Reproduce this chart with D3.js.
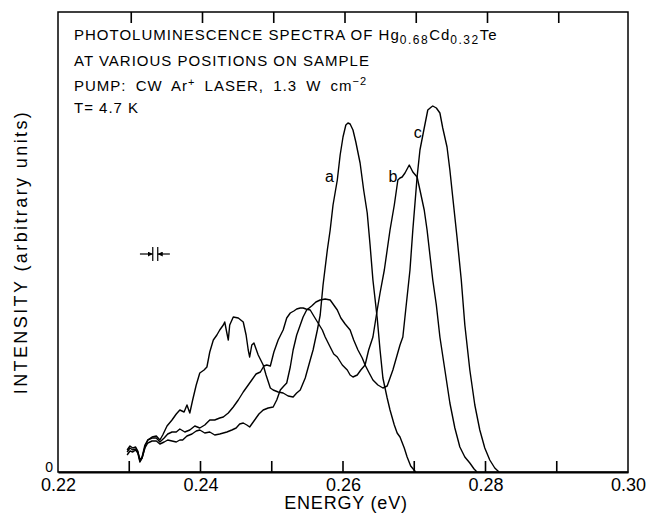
<!DOCTYPE html>
<html>
<head>
<meta charset="utf-8">
<script src="https://cdn.jsdelivr.net/npm/d3@7/dist/d3.min.js"></script>
<style>
  body { margin: 0; background: #fff; }
  svg { display: block; font-family: "Liberation Sans", Arial, sans-serif; }
</style>
</head>
<body>
<div id="chart"></div>
<script>
// photon energy (eV) and intensity (arbitrary units)
const energyA = [0.2297,0.2301,0.2305,0.2309,0.2312,0.2315,0.2318,0.2322,0.2326,0.2332,0.2338,0.2343,0.2347,0.2353,0.2360,0.2366,0.2371,0.2377,0.2381,0.2385,0.2389,0.2394,0.2399,0.2405,0.2409,0.2413,0.2418,0.2423,0.2427,0.2432,0.2434,0.2437,0.2439,0.2441,0.2446,0.2453,0.2460,0.2464,0.2467,0.2469,0.2472,0.2475,0.2481,0.2488,0.2492,0.2498,0.2502,0.2509,0.2516,0.2523,0.2530,0.2535,0.2540,0.2547,0.2554,0.2558,0.2564,0.2568,0.2572,0.2578,0.2582,0.2586,0.2592,0.2596,0.2600,0.2604,0.2607,0.2610,0.2614,0.2618,0.2624,0.2629,0.2634,0.2638,0.2642,0.2648,0.2652,0.2656,0.2662,0.2666,0.2672,0.2676,0.2680,0.2686,0.2690,0.2695,0.2702];
const intensityA = [22,26,24,25,21,11,14,25,32,35,36,32,37,46,52,58,62,60,67,59,72,87,99,102,105,120,132,137,142,147,150,139,132,147,155,154,150,137,122,115,127,129,117,107,97,84,82,80,79,76,75,79,82,94,112,122,142,157,187,222,242,267,292,317,335,347,349,348,342,330,309,282,259,227,192,154,122,94,74,62,47,39,35,24,15,6,0];

const energyB = [0.2297,0.2301,0.2305,0.2309,0.2312,0.2315,0.2318,0.2322,0.2326,0.2332,0.2338,0.2343,0.2349,0.2354,0.2360,0.2366,0.2371,0.2378,0.2385,0.2392,0.2399,0.2406,0.2413,0.2420,0.2427,0.2432,0.2439,0.2446,0.2453,0.2460,0.2465,0.2472,0.2478,0.2484,0.2489,0.2493,0.2498,0.2503,0.2509,0.2516,0.2521,0.2526,0.2531,0.2535,0.2540,0.2544,0.2548,0.2554,0.2559,0.2565,0.2571,0.2575,0.2582,0.2587,0.2592,0.2599,0.2606,0.2610,0.2614,0.2620,0.2625,0.2631,0.2636,0.2642,0.2648,0.2652,0.2658,0.2662,0.2666,0.2672,0.2677,0.2680,0.2683,0.2687,0.2693,0.2698,0.2704,0.2708,0.2714,0.2718,0.2722,0.2726,0.2731,0.2736,0.2743,0.2750,0.2757,0.2764,0.2771,0.2778,0.2784,0.2788];
const intensityB = [20,24,22,23,20,12,15,27,32,34,34,30,34,38,40,40,43,40,42,46,44,47,52,52,54,55,59,65,72,80,85,92,98,100,106,107,106,120,132,142,154,159,161,163,164,164,163,162,156,149,142,135,125,118,115,107,102,97,95,97,102,107,122,135,162,179,202,222,242,267,292,294,295,299,307,300,295,282,262,242,217,192,167,135,102,69,44,25,15,9,3,0];

const energyC = [0.2297,0.2301,0.2305,0.2309,0.2312,0.2315,0.2318,0.2322,0.2326,0.2332,0.2338,0.2343,0.2349,0.2354,0.2360,0.2366,0.2371,0.2375,0.2381,0.2388,0.2394,0.2399,0.2406,0.2413,0.2420,0.2427,0.2437,0.2444,0.2450,0.2455,0.2460,0.2465,0.2469,0.2476,0.2482,0.2488,0.2495,0.2502,0.2507,0.2512,0.2517,0.2521,0.2526,0.2530,0.2535,0.2540,0.2544,0.2549,0.2556,0.2562,0.2568,0.2575,0.2582,0.2587,0.2592,0.2597,0.2603,0.2610,0.2615,0.2621,0.2627,0.2631,0.2636,0.2642,0.2649,0.2656,0.2662,0.2666,0.2670,0.2676,0.2680,0.2684,0.2688,0.2694,0.2698,0.2704,0.2708,0.2714,0.2719,0.2724,0.2726,0.2731,0.2736,0.2740,0.2746,0.2750,0.2754,0.2760,0.2766,0.2771,0.2778,0.2785,0.2792,0.2799,0.2806,0.2813,0.2819];
const intensityC = [17,21,20,22,19,10,14,24,29,31,31,28,30,32,31,30,32,32,36,38,41,42,39,40,37,38,40,42,44,48,49,47,45,52,58,62,64,65,72,82,86,89,105,122,137,147,155,162,166,170,172,173,172,167,162,154,148,142,132,122,114,107,100,92,87,84,86,94,102,117,127,135,162,202,242,295,322,344,362,365,366,364,359,344,325,302,275,235,192,147,102,67,42,24,12,4,0];

const curveNames = ['a', 'b', 'c'];
const labelEnergy = [0.2581, 0.2670, 0.2705];
const labelIntensity = [294, 294, 338];

const xTicks = [0.22, 0.23, 0.24, 0.25, 0.26, 0.27, 0.28, 0.29, 0.30];
const xTickLabels = ['0.22', '', '0.24', '', '0.26', '', '0.28', '', '0.30'];
const xDomain = [0.22, 0.30];
const yDomain = [0, 460];

// spectral resolution marker
const resolutionBars = [0.2333, 0.2340];
const resolutionArrows = [0.2315, 0.2357];
const resolutionLevel = 218;

const W = 647, H = 514;
const margin = { top: 12, right: 19, bottom: 42, left: 58 };
const tickLen = 11;

const svg = d3.select('#chart').append('svg')
	.attr('width', W).attr('height', H);

const x = d3.scaleLinear().domain(xDomain).range([margin.left, W - margin.right]);
const y = d3.scaleLinear().domain(yDomain).range([H - margin.bottom, margin.top]);

svg.append('defs').append('marker')
	.attr('id', 'arrow')
	.attr('viewBox', '0 0 10 10')
	.attr('refX', 10).attr('refY', 5)
	.attr('markerWidth', 5).attr('markerHeight', 5)
	.attr('markerUnits', 'userSpaceOnUse')
	.attr('orient', 'auto')
	.append('path').attr('d', 'M0,0L10,5L0,10Z').attr('fill', '#000');

// frame
svg.append('rect')
	.attr('x', x(xDomain[0])).attr('y', y(yDomain[1]))
	.attr('width', x(xDomain[1]) - x(xDomain[0]))
	.attr('height', y(yDomain[0]) - y(yDomain[1]))
	.attr('fill', 'none').attr('stroke', '#000').attr('stroke-width', 1.5);

// bottom axis labels (the axis line is the frame)
svg.append('g')
	.attr('transform', `translate(0, ${y(0)})`)
	.call(d3.axisBottom(x).tickValues(xTicks).tickSize(0).tickPadding(6)
		.tickFormat((d, i) => xTickLabels[i]))
	.call(g => g.select('.domain').attr('stroke-width', 2))
	.call(g => g.selectAll('.tick text').attr('font-size', 18).attr('fill', '#000')
		.attr('font-family', '"Liberation Sans", Arial, sans-serif'));

// inward ticks on bottom and top edges, drawn as thin filled bars
const inner = xTicks.slice(1, -1);
const tickMarks = svg.append('g').attr('fill', '#000');
tickMarks.selectAll('rect.bt')
	.data(inner)
	.enter().append('rect').attr('class', 'bt')
	.attr('x', d => x(d) - 0.8).attr('y', y(0) - tickLen)
	.attr('width', 1.6).attr('height', tickLen);
tickMarks.selectAll('rect.tt')
	.data(inner)
	.enter().append('rect').attr('class', 'tt')
	.attr('x', d => x(d) + 1.2).attr('y', y(yDomain[1]))
	.attr('width', 1.6).attr('height', tickLen);

// left axis: only the zero
svg.append('g')
	.attr('transform', `translate(${x(xDomain[0])}, 0)`)
	.call(d3.axisLeft(y).tickValues([0]).tickSize(0).tickPadding(5).tickFormat(d3.format('d')))
	.call(g => g.select('.domain').remove())
	.call(g => g.selectAll('.tick text').attr('font-size', 14).attr('fill', '#000')
		.attr('dy', '-0.05em').attr('font-family', '"Liberation Sans", Arial, sans-serif'));

// spectra
const line = d3.line().x(d => x(d[0])).y(d => y(d[1]));
const spectra = [d3.zip(energyA, intensityA), d3.zip(energyB, intensityB), d3.zip(energyC, intensityC)];
svg.append('g').selectAll('path')
	.data(spectra)
	.enter().append('path')
	.attr('d', line)
	.attr('fill', 'none')
	.attr('stroke', '#000')
	.attr('stroke-width', 1.4)
	.attr('stroke-linejoin', 'round');

svg.append('g').selectAll('text')
	.data(curveNames)
	.enter().append('text')
	.attr('x', (d, i) => x(labelEnergy[i]))
	.attr('y', (d, i) => y(labelIntensity[i]))
	.attr('dy', '0.27em')
	.attr('text-anchor', 'middle')
	.attr('font-size', 16)
	.text(d => d);

// resolution marker
const res = svg.append('g').attr('stroke', '#000').attr('stroke-width', 1.2);
res.selectAll('line.bar')
	.data(resolutionBars)
	.enter().append('line').attr('class', 'bar')
	.attr('x1', d => x(d)).attr('x2', d => x(d))
	.attr('y1', y(resolutionLevel + 7)).attr('y2', y(resolutionLevel - 7));
res.selectAll('line.arr')
	.data(resolutionArrows)
	.enter().append('line').attr('class', 'arr')
	.attr('x1', d => x(d))
	.attr('x2', (d, i) => x(resolutionBars[i]))
	.attr('y1', y(resolutionLevel)).attr('y2', y(resolutionLevel))
	.attr('marker-end', 'url(#arrow)');

// annotation text
const note = svg.append('g').attr('font-size', 15).attr('letter-spacing', 1).attr('fill', '#000');
const t1 = note.append('text').attr('x', 74).attr('y', 40);
t1.append('tspan').text('PHOTOLUMINESCENCE SPECTRA OF Hg');
t1.append('tspan').attr('dy', 4).attr('font-size', 12).attr('letter-spacing', 1.5).text('0.68');
t1.append('tspan').attr('dy', -4).text('Cd');
t1.append('tspan').attr('dy', 4).attr('font-size', 12).attr('letter-spacing', 1.5).text('0.32');
t1.append('tspan').attr('dy', -4).text('Te');

note.append('text').attr('x', 74).attr('y', 66).text('AT VARIOUS POSITIONS ON SAMPLE');

const t3 = note.append('text').attr('x', 74).attr('y', 91).attr('word-spacing', 4);
t3.append('tspan').text('PUMP: CW Ar');
t3.append('tspan').attr('dy', -5).attr('font-size', 11).text('+');
t3.append('tspan').attr('dy', 5).text(' LASER, 1.3 W cm');
t3.append('tspan').attr('dy', -6).attr('font-size', 11).text('\u22122');

note.append('text').attr('x', 74).attr('y', 113).text('T= 4.7 K');

// axis titles
svg.append('text')
	.attr('x', 346).attr('y', 509)
	.attr('text-anchor', 'middle')
	.attr('font-size', 18).attr('letter-spacing', 0.8)
	.text('ENERGY (eV)');

svg.append('text')
	.attr('transform', 'translate(27, 252) rotate(-90)')
	.attr('text-anchor', 'middle')
	.attr('font-size', 18).attr('letter-spacing', 2.4)
	.text('INTENSITY (arbitrary units)');
</script>
</body>
</html>
